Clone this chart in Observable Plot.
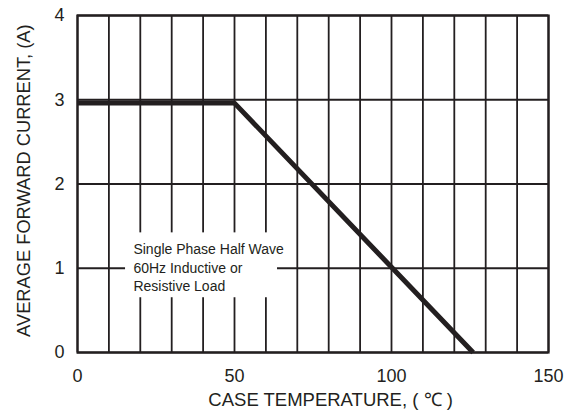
<!DOCTYPE html>
<html>
<head>
<meta charset="utf-8">
<script src="https://cdn.jsdelivr.net/npm/d3@7"></script>
<script src="https://cdn.jsdelivr.net/npm/@observablehq/plot@0.6"></script>
<style>
  html, body { margin: 0; padding: 0; background: #fff; }
  #chart { width: 585px; height: 416px; }
</style>
</head>
<body>
<div id="chart"></div>
<script>
// Derating curve: case temperature (°C) vs average forward current (A)
const tempC = [0, 50, 126];
const currentA = [2.96, 2.96, 0];
const xTicks = [0, 50, 100, 150];
const yTicks = [0, 1, 2, 3, 4];
const xGrid = d3.range(0, 151, 10);
const yGrid = [0, 1, 2, 3, 4];
const xLabel = "CASE TEMPERATURE, ( ℃ )";
const yLabel = "AVERAGE FORWARD CURRENT, (A)";
const xLabelPos = {x: 80.6, y: -0.57};
const yLabelPos = {x: -16.9, y: 2.04};
const noteLines = ["Single Phase Half Wave", "60Hz Inductive or", "Resistive Load"];
const noteBox = {x1: 15.3, x2: 63.7, y1: 0.65, y2: 1.42};
const noteX = 17.8;
const noteY = [1.22, 1.0, 0.78];

const curve = tempC.map((t, i) => ({t, a: currentA[i]}));
const notes = noteLines.map((s, i) => ({s, x: noteX, y: noteY[i]}));

const ink = "#231f20";
const chart = Plot.plot({
  width: 585,
  height: 416,
  marginLeft: 77,
  marginRight: 37,
  marginTop: 15,
  marginBottom: 64,
  style: {fontFamily: "'Liberation Sans', Arial, sans-serif", background: "#fff", color: ink},
  x: {domain: [0, 150]},
  y: {domain: [0, 4]},
  marks: [
    Plot.ruleX(xGrid, {stroke: ink, strokeWidth: 1.8}),
    Plot.ruleY(yGrid, {stroke: ink, strokeWidth: 1.8}),
    Plot.rect([noteBox], {x1: "x1", x2: "x2", y1: "y1", y2: "y2", fill: "#fff"}),
    Plot.frame({stroke: ink, strokeWidth: 2.2}),
    Plot.line(curve, {x: "t", y: "a", stroke: ink, strokeWidth: 5, strokeLinejoin: "miter", strokeLinecap: "butt"}),
    Plot.text(notes, {x: "x", y: "y", text: "s", textAnchor: "start", fontSize: 14, fill: ink}),
    Plot.axisX(xTicks, {tickSize: 0, tickPadding: 17, fontSize: 18, tickFormat: "d", label: null}),
    Plot.axisY(yTicks, {tickSize: 0, tickPadding: 13, fontSize: 18, tickFormat: "d", label: null}),
    Plot.text([xLabelPos], {x: "x", y: "y", text: () => xLabel, fontSize: 18.5, fill: ink}),
    Plot.text([yLabelPos], {x: "x", y: "y", text: () => yLabel, rotate: -90, fontSize: 18.3, fill: ink})
  ]
});
document.getElementById("chart").appendChild(chart);
</script>
</body>
</html>
